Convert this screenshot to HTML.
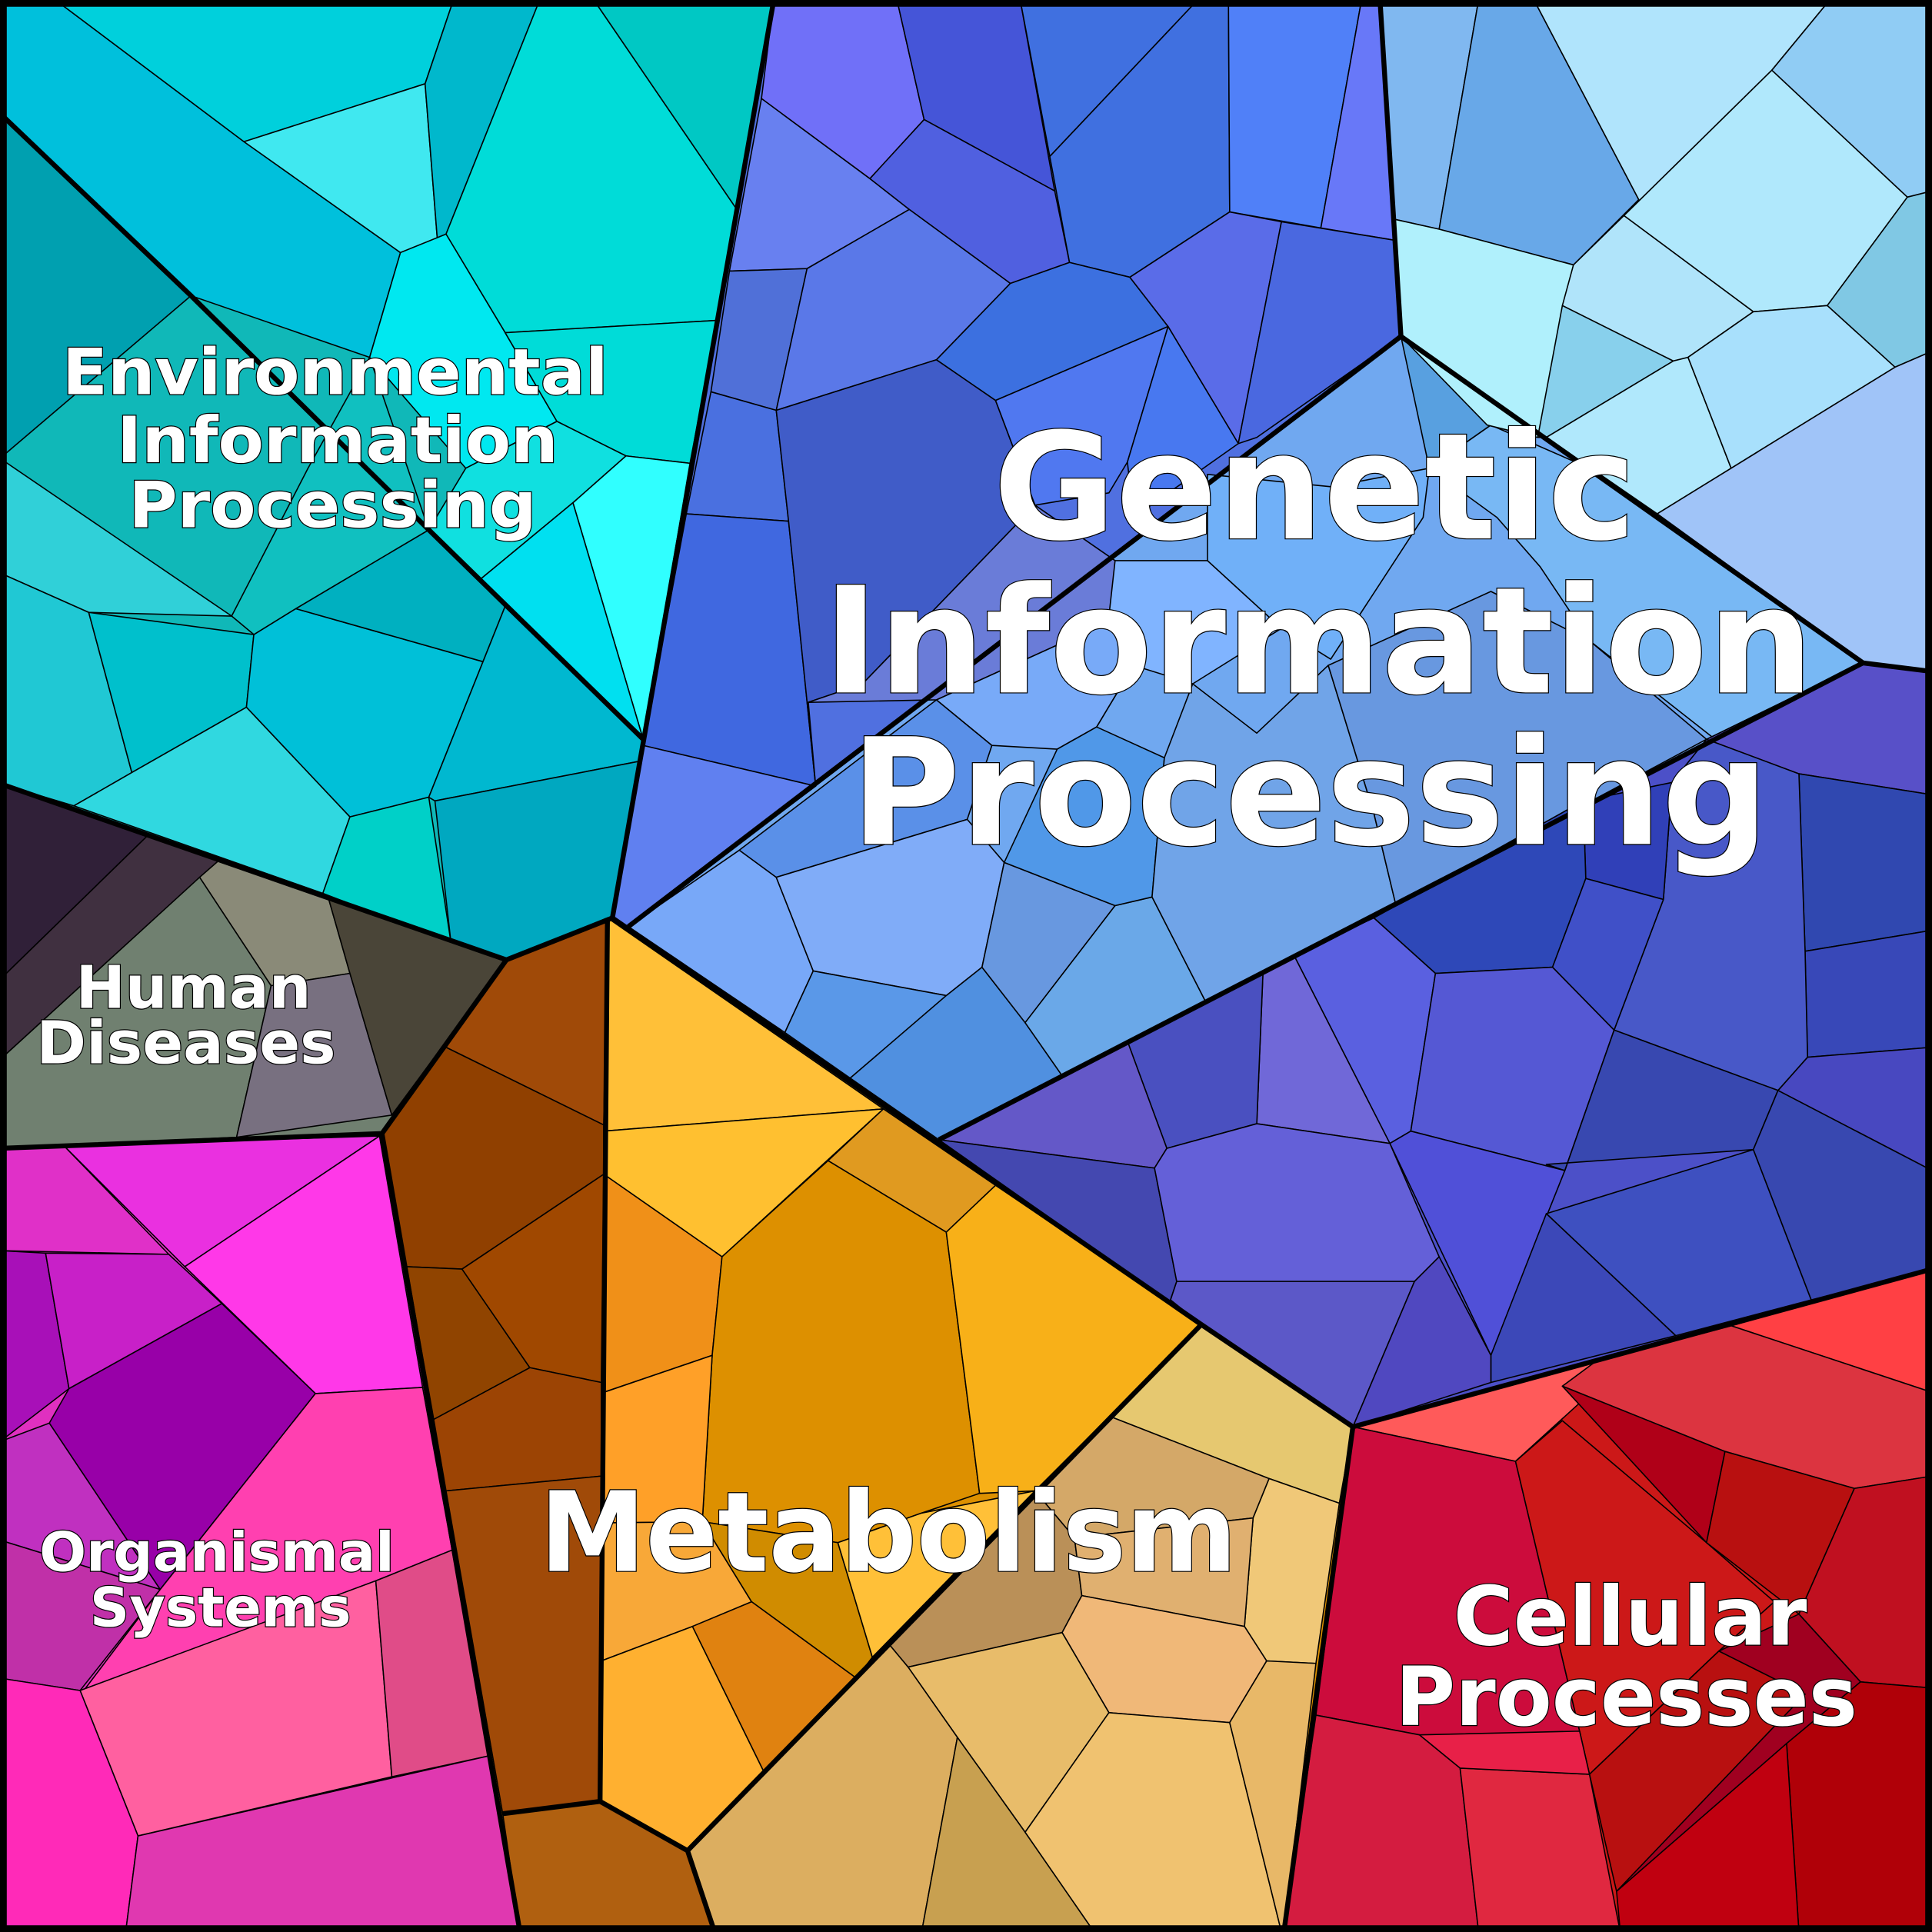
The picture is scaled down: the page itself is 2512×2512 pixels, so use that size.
<!DOCTYPE html>
<html><head><meta charset="utf-8"><style>html,body{margin:0;padding:0;background:#fff}svg{display:block}</style></head><body>
<svg width="2512" height="2512" viewBox="0 0 1568 1568" xmlns="http://www.w3.org/2000/svg">
<g stroke="#000" stroke-width="1" stroke-linejoin="round">
<polygon points="0,0 628,0 497,745 411,779 0,636" fill="#10b8b8"/>
<polygon points="0,636 411,779 310,920 0,932" fill="#708070"/>
<polygon points="0,932 310,920 422,1568 0,1568" fill="#e030c0"/>
<polygon points="411,779 497,745 975,1075 1098,1158 1042,1568 422,1568 310,920" fill="#dd9000"/>
<polygon points="628,0 1120,0 1137,273 510,752 497,745" fill="#5070e0"/>
<polygon points="1120,0 1568,0 1568,545 1512,538 1137,273" fill="#a8e4fa"/>
<polygon points="1137,273 1512,538 762,925 510,752" fill="#70a8f0"/>
<polygon points="1512,538 1568,545 1568,1030 1098,1158 762,925" fill="#4c50c8"/>
<polygon points="1098,1158 1568,1030 1568,1568 1042,1568" fill="#cc1818"/>

<polygon points="0,0 45,0 198,115 325,205 300,290 155,240 0,92" fill="#00c0dc"/>
<polygon points="45,0 368,0 345,68 198,115" fill="#00d0dc"/>
<polygon points="198,115 345,68 355,195 325,205" fill="#40e8f0"/>
<polygon points="368,0 438,0 362,190 355,195 345,68" fill="#00b8cc"/>
<polygon points="438,0 482,0 598,170 582,260 410,270 362,190" fill="#00dcd8"/>
<polygon points="482,0 628,0 598,170" fill="#00c8c4"/>
<polygon points="362,190 410,270 452,342 378,380 300,290 325,205" fill="#00e8f0"/>
<polygon points="410,270 582,260 560,376 508,370 452,342" fill="#00dcd8"/>
<polygon points="0,92 155,240 0,372" fill="#00a0b0"/>
<polygon points="508,370 560,376 522,600 465,408" fill="#30ffff"/>
<polygon points="452,342 508,370 465,408 390,470 348,430 378,380" fill="#10e0e0"/>
<polygon points="390,470 465,408 522,600 410,492" fill="#00e0f0"/>
<polygon points="0,372 188,500 72,497 0,465" fill="#30d0d8"/>
<polygon points="0,465 72,497 107,627 60,654 0,636" fill="#20c8d4"/>
<polygon points="72,497 206,515 200,574 107,627" fill="#00c0cc"/>
<polygon points="206,515 240,494 392,537 348,647 284,663 200,574" fill="#00c0d8"/>
<polygon points="240,494 348,430 410,492 392,537" fill="#00b0c0"/>
<polygon points="188,500 206,515 240,494 348,430 300,290 250,380" fill="#10c0c0"/>
<polygon points="60,654 107,627 200,574 284,663 262,725" fill="#30d8e0"/>
<polygon points="262,725 284,663 348,647 366,765" fill="#00d0c8"/>
<polygon points="348,647 392,537 410,492 522,600 518,618 353,650" fill="#00b8d0"/>
<polygon points="353,650 518,618 497,745 411,779 366,765" fill="#00a8c0"/>

<polygon points="0,636 120,678 0,795" fill="#302038"/>
<polygon points="120,678 178,698 0,860 0,795" fill="#403040"/>
<polygon points="178,698 162,712 220,800 284,790 266,727" fill="#8a8a78"/>
<polygon points="162,712 0,860 0,932 192,923 220,800" fill="#708070"/>
<polygon points="220,800 284,790 318,905 192,923" fill="#787080"/>
<polygon points="266,727 411,779 318,905 284,790" fill="#4a4538"/>

<polygon points="0,932 52,930 137,1018 0,1015" fill="#e030c8"/>
<polygon points="52,930 308,922 150,1028" fill="#ea30e0"/>
<polygon points="150,1028 308,922 343,1126 256,1131" fill="#ff38e8"/>
<polygon points="0,1015 37,1017 56,1127 0,1170" fill="#a810b8"/>
<polygon points="37,1017 137,1018 180,1058 56,1127" fill="#c820c8"/>
<polygon points="56,1127 180,1058 256,1131 130,1290 40,1155" fill="#9800a8"/>
<polygon points="0,1170 40,1155 130,1290 0,1250" fill="#c030c0"/>
<polygon points="0,1250 130,1290 65,1372 0,1362" fill="#c030a8"/>
<polygon points="256,1131 343,1126 367,1258 305,1283 68,1372 130,1290" fill="#ff40b0"/>
<polygon points="65,1372 305,1283 318,1442 112,1490" fill="#ff60a0"/>
<polygon points="305,1283 367,1258 397,1425 318,1442" fill="#e04c88"/>
<polygon points="0,1362 65,1372 112,1490 102,1568 0,1568" fill="#ff2ab8"/>
<polygon points="112,1490 397,1425 422,1568 102,1568" fill="#e038b0"/>

<polygon points="411,779 493,745 490,913 362,850" fill="#a04a08"/>
<polygon points="310,920 362,850 490,913 490,953 375,1030 330,1028" fill="#904000"/>
<polygon points="330,1028 375,1030 430,1110 352,1152" fill="#904400"/>
<polygon points="375,1030 490,953 488,1122 430,1110" fill="#a04800"/>
<polygon points="352,1152 430,1110 488,1122 488,1198 362,1210" fill="#9c4404"/>
<polygon points="362,1210 488,1198 487,1462 408,1472" fill="#a04a08"/>
<polygon points="408,1472 487,1462 558,1502 580,1568 422,1568" fill="#b06010"/>
<polygon points="493,745 717,900 490,918" fill="#ffc038"/>
<polygon points="490,918 717,900 586,1020 490,953" fill="#ffc030"/>
<polygon points="717,900 808,962 768,1000 672,942" fill="#e09a20"/>
<polygon points="490,953 586,1020 578,1100 490,1130" fill="#f09018"/>
<polygon points="586,1020 672,942 768,1000 795,1212 748,1228 680,1252 570,1235 578,1100" fill="#dd9000"/>
<polygon points="808,962 975,1075 840,1210 795,1212 768,1000" fill="#f8b018"/>
<polygon points="490,1130 578,1100 570,1235 488,1236" fill="#ffa028"/>
<polygon points="488,1236 570,1235 610,1300 562,1320 488,1348" fill="#f8a838"/>
<polygon points="570,1235 680,1252 708,1345 695,1362 610,1300" fill="#d08c00"/>
<polygon points="680,1252 748,1228 840,1210 708,1345" fill="#ffc038"/>
<polygon points="488,1348 562,1320 620,1438 558,1502 487,1462" fill="#ffb030"/>
<polygon points="562,1320 610,1300 695,1362 620,1438" fill="#e08210"/>
<polygon points="975,1075 1098,1158 1087,1220 1030,1200 902,1150" fill="#e6c870"/>
<polygon points="902,1150 1030,1200 1017,1232 872,1248 840,1210" fill="#d4a868"/>
<polygon points="840,1210 872,1248 878,1295 862,1325 737,1353 722,1335" fill="#ba9058"/>
<polygon points="1030,1200 1087,1220 1068,1350 1028,1348 1010,1320 1017,1232" fill="#f0c878"/>
<polygon points="872,1248 1017,1232 1010,1320 878,1295" fill="#e0b070"/>
<polygon points="878,1295 1010,1320 1028,1348 998,1398 900,1390 862,1325" fill="#f0b878"/>
<polygon points="737,1353 862,1325 900,1390 832,1487 777,1410" fill="#e8bc6a"/>
<polygon points="722,1335 737,1353 777,1410 748,1568 580,1568 558,1502" fill="#dcae60"/>
<polygon points="777,1410 832,1487 888,1568 748,1568" fill="#c8a050"/>
<polygon points="832,1487 900,1390 998,1398 1040,1568 888,1568" fill="#f0c270"/>
<polygon points="998,1398 1028,1348 1068,1350 1042,1568 1040,1568" fill="#e8b868"/>

<polygon points="1098,1158 1295,1105 1297,1125 1230,1186" fill="#ff5a5a"/>
<polygon points="1405,1076 1568,1030 1568,1130" fill="#ff4044"/>
<polygon points="1295,1105 1405,1076 1568,1130 1568,1198 1505,1208 1400,1178 1268,1125" fill="#dc3440"/>
<polygon points="1098,1158 1230,1186 1282,1405 1185,1435 1152,1408 1068,1392" fill="#cc0c3c"/>
<polygon points="1230,1186 1268,1153 1385,1252 1440,1300 1395,1340 1290,1440 1282,1405" fill="#cc1818"/>
<polygon points="1268,1125 1400,1178 1385,1252" fill="#b00018"/>
<polygon points="1400,1178 1505,1208 1460,1310 1385,1252" fill="#b81010"/>
<polygon points="1505,1208 1568,1198 1568,1370 1510,1365 1460,1310" fill="#c01020"/>
<polygon points="1395,1340 1460,1310 1510,1365 1312,1535" fill="#a00020"/>
<polygon points="1290,1440 1395,1340 1465,1375 1312,1535" fill="#b81010"/>
<polygon points="1450,1415 1510,1365 1568,1370 1568,1568 1460,1568" fill="#b00008"/>
<polygon points="1312,1535 1450,1415 1460,1568 1315,1568" fill="#c00010"/>
<polygon points="1068,1392 1152,1408 1185,1435 1200,1568 1042,1568" fill="#d41c40"/>
<polygon points="1185,1435 1290,1440 1315,1568 1200,1568" fill="#e02840"/>
<polygon points="1152,1408 1282,1405 1290,1440 1185,1435" fill="#e82048"/>

<polygon points="628,0 728,0 750,97 706,145 618,80" fill="#7070f8"/>
<polygon points="728,0 828,0 856,155 750,97" fill="#4555d8"/>
<polygon points="618,80 706,145 738,170 655,218 592,220" fill="#6880f0"/>
<polygon points="706,145 750,97 856,155 868,213 820,230 738,170" fill="#5060e0"/>
<polygon points="828,0 972,0 852,127" fill="#4070e0"/>
<polygon points="852,127 972,0 997,0 998,172 917,225 868,213" fill="#4070e0"/>
<polygon points="997,0 1105,0 1072,185 998,172" fill="#5080f8"/>
<polygon points="1105,0 1120,0 1132,195 1072,185" fill="#6878f8"/>
<polygon points="592,220 655,218 630,333 577,318" fill="#5070d8"/>
<polygon points="655,218 738,170 820,230 760,292 630,333" fill="#5a78e8"/>
<polygon points="820,230 868,213 917,225 948,265 808,325 760,292" fill="#3c70e0"/>
<polygon points="917,225 998,172 1040,180 1005,360 948,265" fill="#5a6ce8"/>
<polygon points="1040,180 1132,195 1137,273 1020,355 1005,360" fill="#4a68e0"/>
<polygon points="577,318 630,333 640,423 557,417" fill="#4a70e0"/>
<polygon points="557,417 640,423 662,638 522,605" fill="#4068e0"/>
<polygon points="630,333 760,292 808,325 840,410 700,555 656,570 662,638 640,423" fill="#405cc8"/>
<polygon points="808,325 948,265 915,375 900,400 840,410" fill="#5078f0"/>
<polygon points="948,265 1005,360 920,420 915,375" fill="#4878f0"/>
<polygon points="522,605 662,638 510,752 497,745" fill="#6080f0"/>

<polygon points="656,570 700,555 840,410 905,455 910,500 760,568" fill="#6a7cd8"/>
<polygon points="905,455 980,455 1040,510 968,555 920,540 890,590" fill="#80b4ff"/>
<polygon points="980,385 980,455 1040,510 1080,535 1155,420 1160,380 1080,395" fill="#70b0f8"/>
<polygon points="1137,273 1160,380 1210,345 1225,340" fill="#58a0e0"/>
<polygon points="1160,380 1210,345 1290,380 1512,538 1392,600 1290,520 1250,460 1215,420" fill="#78b8f4"/>
<polygon points="760,568 910,500 920,540 890,590 858,608 805,605" fill="#78aaf8"/>
<polygon points="510,752 600,690 630,712 660,788 637,838" fill="#78a8f8"/>
<polygon points="600,690 760,568 805,605 785,665 630,712" fill="#5a90e8"/>
<polygon points="630,712 785,665 815,700 797,785 768,808 660,788" fill="#80acf8"/>
<polygon points="660,788 768,808 690,875 637,838" fill="#5a98e8"/>
<polygon points="690,875 768,808 797,785 832,830 862,873 762,925" fill="#5090e0"/>
<polygon points="797,785 815,700 905,735 832,830" fill="#6898e0"/>
<polygon points="832,830 905,735 935,728 978,812 862,873" fill="#6aa8e8"/>
<polygon points="815,700 858,608 890,590 945,615 935,728 905,735" fill="#5098e8"/>
<polygon points="935,728 945,615 968,555 1020,595 1078,540 1115,660 1133,735 978,812" fill="#70a4e8"/>
<polygon points="1078,540 1210,480 1290,520 1385,600 1133,735 1115,660" fill="#6898e0"/>

<polygon points="1120,0 1200,0 1168,186 1132,178" fill="#80b8f0"/>
<polygon points="1200,0 1245,0 1330,162 1277,215 1168,186" fill="#68a8e8"/>
<polygon points="1245,0 1485,0 1438,57 1318,175 1330,162" fill="#b0e4fc"/>
<polygon points="1485,0 1568,0 1568,155 1548,160 1438,57" fill="#90ccf4"/>
<polygon points="1318,175 1438,57 1548,160 1483,248 1423,253" fill="#b0e8fc"/>
<polygon points="1548,160 1568,155 1568,285 1538,298 1483,248" fill="#80c8e4"/>
<polygon points="1132,178 1168,186 1277,215 1248,355 1207,345 1137,273" fill="#b0f0fc"/>
<polygon points="1277,215 1318,175 1423,253 1370,290 1358,293 1268,248" fill="#b0e4fa"/>
<polygon points="1268,248 1358,293 1255,355 1248,355" fill="#88d0ec"/>
<polygon points="1358,293 1370,290 1405,380 1345,417 1255,355" fill="#b0e8fc"/>
<polygon points="1370,290 1423,253 1483,248 1538,298 1405,380" fill="#a8e0fc"/>
<polygon points="1538,298 1568,285 1568,545 1512,538 1345,417 1405,380" fill="#a0c4f8"/>

<polygon points="1385,600 1512,538 1568,545 1568,645 1460,628" fill="#5850c8"/>
<polygon points="1460,628 1568,645 1568,755 1465,772" fill="#3048b0"/>
<polygon points="1465,772 1568,755 1568,850 1467,858" fill="#3848b8"/>
<polygon points="1467,858 1568,850 1568,950 1443,885" fill="#4848c0"/>
<polygon points="1350,730 1357,635 1385,600 1460,628 1465,772 1467,858 1443,885 1310,836" fill="#4858c8"/>
<polygon points="1285,650 1357,635 1350,730 1287,713" fill="#3040b8"/>
<polygon points="1115,745 1285,650 1287,713 1260,785 1165,790" fill="#2e48b8"/>
<polygon points="1260,785 1287,713 1350,730 1310,836" fill="#4050c8"/>
<polygon points="1050,775 1115,745 1165,790 1145,918 1128,928" fill="#5a60e0"/>
<polygon points="1145,918 1165,790 1260,785 1310,836 1270,950" fill="#5558d4"/>
<polygon points="1270,950 1310,836 1443,885 1423,933 1255,945" fill="#3848b0"/>
<polygon points="1128,928 1145,918 1270,950 1210,1100" fill="#5050d8"/>
<polygon points="1255,985 1423,933 1470,1055 1360,1084" fill="#3e50c0"/>
<polygon points="1423,933 1443,885 1568,950 1568,1030 1470,1055" fill="#3848b0"/>
<polygon points="1210,1100 1255,985 1360,1084 1210,1122" fill="#3c48b8"/>
<polygon points="1025,790 1050,775 1128,928 1020,912" fill="#7068d8"/>
<polygon points="915,845 1025,790 1020,912 947,932" fill="#4a50c0"/>
<polygon points="762,925 915,845 947,932 937,948" fill="#6458c8"/>
<polygon points="762,925 937,948 955,1040 950,1055 975,1075" fill="#4448b0"/>
<polygon points="937,948 947,932 1020,912 1128,928 1168,1020 1148,1040 955,1040" fill="#6460d8"/>
<polygon points="950,1055 955,1040 1148,1040 1098,1158 975,1075" fill="#5c58c8"/>
<polygon points="1148,1040 1168,1020 1210,1100 1210,1122 1098,1158" fill="#5048c0"/>
</g>

<g fill="none" stroke="#000" stroke-width="4" stroke-linejoin="round">
<polyline points="628,0 497,745 411,779 0,636"/>
<polyline points="0,92 155,240 348,430 522,600"/>
<polyline points="411,779 310,920 0,932"/>
<polyline points="310,920 422,1568"/>
<polyline points="497,745 975,1075 1098,1158 1568,1030"/>
<polyline points="1098,1158 1042,1568"/>
<polyline points="1120,0 1137,273 1512,538 1568,545"/>
<polyline points="1137,273 510,752"/>
<polyline points="1512,538 762,925"/>
<polyline points="493,745 487,1462 558,1502 580,1568"/>
<polyline points="408,1472 487,1462"/>
<polyline points="558,1502 975,1075"/>
<rect x="2.5" y="2.5" width="1563" height="1563" stroke-width="6"/>
</g>

<g font-family="DejaVu Sans, Liberation Sans, sans-serif" font-weight="bold" fill="#fff" stroke="#000" stroke-width="1.5" paint-order="stroke" text-anchor="middle">
<text x="272" y="320" font-size="52" textLength="443" lengthAdjust="spacingAndGlyphs">Environmental</text>
<text x="274" y="375" font-size="52" textLength="358" lengthAdjust="spacingAndGlyphs">Information</text>
<text x="270" y="428" font-size="52" textLength="331" lengthAdjust="spacingAndGlyphs">Processing</text>
<text x="1067" y="437" font-size="120" textLength="522" lengthAdjust="spacingAndGlyphs">Genetic</text>
<text x="1070" y="562" font-size="120" textLength="804" lengthAdjust="spacingAndGlyphs">Information</text>
<text x="1063" y="685" font-size="120" textLength="745" lengthAdjust="spacingAndGlyphs">Processing</text>
<text x="157" y="818" font-size="48" textLength="191" lengthAdjust="spacingAndGlyphs">Human</text>
<text x="151" y="863" font-size="48" textLength="243" lengthAdjust="spacingAndGlyphs">Diseases</text>
<text x="176" y="1275" font-size="44" textLength="288" lengthAdjust="spacingAndGlyphs">Organismal</text>
<text x="179" y="1320" font-size="44" textLength="212" lengthAdjust="spacingAndGlyphs">Systems</text>
<text x="721" y="1275" font-size="90" textLength="566" lengthAdjust="spacingAndGlyphs">Metabolism</text>
<text x="1323" y="1335" font-size="66" textLength="287" lengthAdjust="spacingAndGlyphs">Cellular</text>
<text x="1320" y="1400" font-size="66" textLength="375" lengthAdjust="spacingAndGlyphs">Processes</text>
</g>
</svg>
</body></html>
